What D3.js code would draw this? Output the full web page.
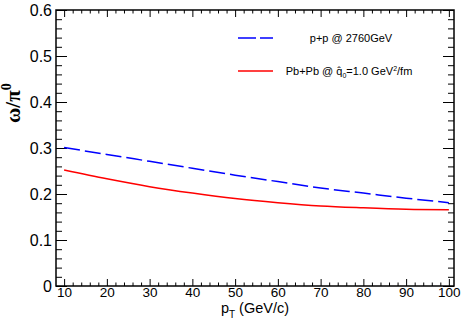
<!DOCTYPE html>
<html>
<head>
<meta charset="utf-8">
<script src="https://cdn.jsdelivr.net/npm/d3@7"></script>
<style>
  body { margin: 0; background: #fff; }
  svg { display: block; font-family: "Liberation Sans", Arial, sans-serif; }
  .domain { display: none; }
  .tick line { stroke: #000; }
</style>
</head>
<body>
<svg width="466" height="324"></svg>
<script>
// pT (GeV/c)
const pt = [10, 20, 30, 40, 50, 60, 70, 80, 90, 100];
// omega/pi0, p+p @ 2760 GeV
const ppRatio = [0.301, 0.286, 0.271, 0.256, 0.241, 0.227, 0.213, 0.202, 0.191, 0.181];
// omega/pi0, Pb+Pb @ qhat0 = 1.0
const pbRatio = [0.252, 0.233, 0.216, 0.202, 0.190, 0.181, 0.174, 0.170, 0.167, 0.166];

const xTicks = [10, 20, 30, 40, 50, 60, 70, 80, 90, 100];
const yTicks = [0, 0.1, 0.2, 0.3, 0.4, 0.5, 0.6];

const svg = d3.select('svg');

const frameL = 56, frameR = 454, frameT = 10, frameB = 286;

const x = d3.scaleLinear().domain([8.1, 101.2]).range([frameL, frameR]);
const y = d3.scaleLinear().domain([0, 0.6]).range([frameB, frameT]);

const xMinor = d3.range(10, 101, 2).filter(v => v % 10 !== 0);
const yMinor = d3.range(0, 0.6001, 0.02).map(v => +v.toFixed(2))
  .filter(v => Math.abs(v * 10 - Math.round(v * 10)) > 1e-6);

// bottom axis: labels + inward ticks
svg.append('g')
  .attr('transform', `translate(0, ${frameB})`)
  .call(d3.axisBottom(x).tickValues(xTicks).tickSizeInner(-7).tickSizeOuter(0).tickPadding(1))
  .call(g => g.selectAll('text').attr('font-size', 13.5).attr('fill', '#000')
    .attr('font-family', '"Liberation Sans", Arial, sans-serif'));
svg.append('g')
  .attr('transform', `translate(0, ${frameB})`)
  .call(d3.axisBottom(x).tickValues(xMinor).tickSizeInner(-3.5).tickSizeOuter(0).tickFormat(''));

// top axis ticks
svg.append('g')
  .attr('transform', `translate(0, ${frameT})`)
  .call(d3.axisTop(x).tickValues(xTicks).tickSizeInner(-7).tickSizeOuter(0).tickFormat(''));
svg.append('g')
  .attr('transform', `translate(0, ${frameT})`)
  .call(d3.axisTop(x).tickValues(xMinor).tickSizeInner(-3.5).tickSizeOuter(0).tickFormat(''));

// left axis
svg.append('g')
  .attr('transform', `translate(${frameL}, 0)`)
  .call(d3.axisLeft(y).tickValues(yTicks).tickSizeInner(-11).tickSizeOuter(0).tickPadding(4)
    .tickFormat(d => d === 0 ? '0' : d3.format('.1f')(d)))
  .call(g => g.selectAll('text').attr('font-size', 16).attr('fill', '#000')
    .attr('font-family', '"Liberation Sans", Arial, sans-serif'));
svg.append('g')
  .attr('transform', `translate(${frameL}, 0)`)
  .call(d3.axisLeft(y).tickValues(yMinor).tickSizeInner(-6).tickSizeOuter(0).tickFormat(''));

// right axis ticks
svg.append('g')
  .attr('transform', `translate(${frameR}, 0)`)
  .call(d3.axisRight(y).tickValues(yTicks).tickSizeInner(-11).tickSizeOuter(0).tickFormat(''));
svg.append('g')
  .attr('transform', `translate(${frameR}, 0)`)
  .call(d3.axisRight(y).tickValues(yMinor).tickSizeInner(-6).tickSizeOuter(0).tickFormat(''));

// frame
svg.append('rect')
  .attr('x', frameL).attr('y', frameT)
  .attr('width', frameR - frameL).attr('height', frameB - frameT)
  .attr('fill', 'none').attr('stroke', '#000').attr('stroke-width', 1.5);

const line = d3.line().curve(d3.curveMonotoneX);

svg.append('path')
  .attr('d', line(pt.map((p, i) => [x(p), y(ppRatio[i])])))
  .attr('fill', 'none').attr('stroke', '#0000ff').attr('stroke-width', 1.5)
  .attr('stroke-dasharray', '16,5');

svg.append('path')
  .attr('d', line(pt.map((p, i) => [x(p), y(pbRatio[i])])))
  .attr('fill', 'none').attr('stroke', '#ff0000').attr('stroke-width', 1.5);

// legend
svg.append('line')
  .attr('x1', 238).attr('x2', 273).attr('y1', 38).attr('y2', 38)
  .attr('stroke', '#0000ff').attr('stroke-width', 1.5).attr('stroke-dasharray', '18,4');
svg.append('text')
  .attr('x', 351).attr('y', 42).attr('text-anchor', 'middle').attr('font-size', 11)
  .text('p+p @ 2760GeV');

svg.append('line')
  .attr('x1', 238).attr('x2', 273).attr('y1', 71).attr('y2', 71)
  .attr('stroke', '#ff0000').attr('stroke-width', 1.5);
const lt = svg.append('text')
  .attr('x', 349).attr('y', 75).attr('text-anchor', 'middle').attr('font-size', 11);
lt.append('tspan').text('Pb+Pb @ q\u0302');
lt.append('tspan').attr('font-size', 7).attr('dy', 3).text('0');
lt.append('tspan').attr('dy', -3).text('=1.0 GeV');
lt.append('tspan').attr('font-size', 7).attr('dy', -4).text('2');
lt.append('tspan').attr('dy', 4).text('/fm');

// x title
const xt = svg.append('text')
  .attr('x', 255).attr('y', 313).attr('text-anchor', 'middle').attr('font-size', 14.5);
xt.append('tspan').text('p');
xt.append('tspan').attr('font-size', 10).attr('dy', 5).text('T');
xt.append('tspan').attr('dy', -5).text(' (GeV/c)');

// y title
const yt = svg.append('text')
  .attr('transform', 'translate(20, 123) rotate(-90)')
  .attr('font-size', 21).attr('font-weight', 'bold')
  .attr('font-family', '"Liberation Serif", "DejaVu Serif", serif');
yt.append('tspan').text('\u03c9/\u03c0');
yt.append('tspan').attr('font-size', 14).attr('dy', -9).text('0');
</script>
</body>
</html>
